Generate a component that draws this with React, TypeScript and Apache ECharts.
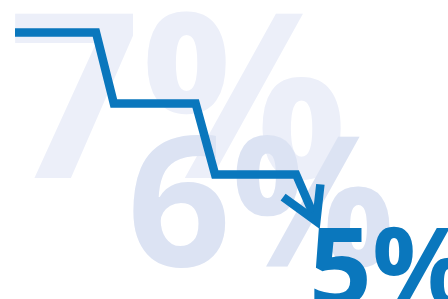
import React, { useEffect, useRef } from "react";
import * as echarts from "echarts";

// Step-down of the rate, with slanted drops between levels
const periods = [0, 1, 1.22, 2.23, 2.47, 3.47, 3.72];
const rates = [7, 7, 6, 6, 5, 5, 4.34];
// Arrow head (chevron) at the end of the line
const arrowPeriods = [3.31, 3.72, 3.77];
const arrowRates = [4.68, 4.34, 4.86];
// Big rate labels
const rateLabels = ["7%", "6%", "5%"];

const BLUE = "#0a77bd";

export default function App() {
  const ref = useRef<HTMLDivElement>(null);
  useEffect(() => {
    if (!ref.current) return;
    const chart = echarts.init(ref.current, undefined, { renderer: "svg" });
    const lineData = periods.map((p, i) => [p, rates[i]]);
    const arrowData = arrowPeriods.map((p, i) => [p, arrowRates[i]]);
    const font = '"Open Sans", "Noto Sans", sans-serif';
    chart.setOption({
      animation: false,
      backgroundColor: "#ffffff",
      grid: { left: 15, right: 28, top: 4, bottom: 11 },
      xAxis: { type: "value", min: 0, max: 5, show: false },
      yAxis: { type: "value", min: 3.4, max: 7.4, show: false },
      graphic: [
        {
          type: "text",
          x: 9,
          y: -27,
          z: 0,
          style: {
            text: rateLabels[0],
            font: `bold 230px ${font}`,
            fill: "#eceff9",
            align: "left",
            verticalAlign: "top",
          },
        },
        {
          type: "text",
          x: 127,
          y: 104,
          z: 1,
          style: {
            text: rateLabels[1],
            font: `bold 182px ${font}`,
            fill: "#dce3f3",
            align: "left",
            verticalAlign: "top",
          },
        },
        {
          type: "text",
          x: 309,
          y: 208,
          z: 2,
          style: {
            text: rateLabels[2],
            font: `bold 110px ${font}`,
            fill: BLUE,
            align: "left",
            verticalAlign: "top",
          },
        },
      ],
      series: [
        {
          type: "line",
          data: lineData,
          symbol: "none",
          clip: false,
          z: 10,
          lineStyle: { color: BLUE, width: 8.5, join: "miter", cap: "butt" },
        },
        {
          type: "line",
          data: arrowData,
          symbol: "none",
          clip: false,
          z: 10,
          lineStyle: { color: BLUE, width: 8.5, join: "miter", cap: "butt" },
        },
      ],
    });
    return () => chart.dispose();
  }, []);
  return (
    <div
      ref={ref}
      style={{ position: "absolute", left: 0, top: 0, width: 448, height: 299 }}
    />
  );
}
